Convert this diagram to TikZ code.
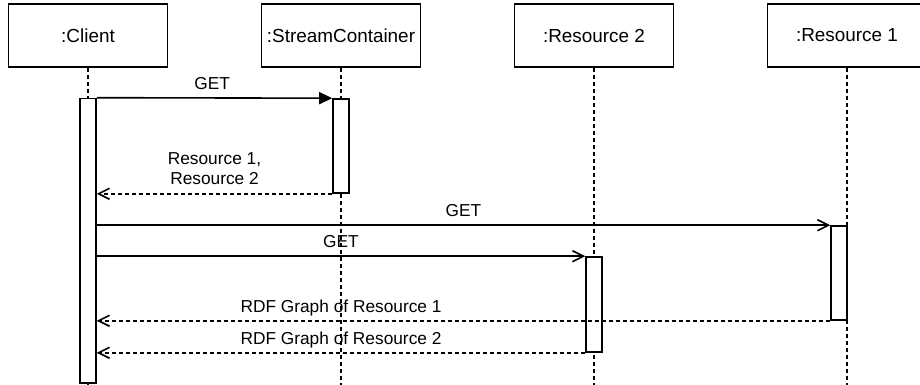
\documentclass[tikz,border=0pt]{standalone}
\usepackage{fontspec}
\setmainfont{Liberation Sans}
\usetikzlibrary{arrows.meta}
\begin{document}
\begin{tikzpicture}
[x=1pt,y=-1pt,line width=1.6pt,
  lifebox/.style={shape=rectangle,draw,minimum width=159pt,minimum height=63pt,inner sep=0pt,font=\fontsize{18.9}{22}\selectfont},%
  actbar/.style={shape=rectangle,draw,fill=white,minimum width=16pt,inner sep=0pt},%
  lifeline/.style={dash pattern=on 4pt off 3pt,line width=1.4pt},%
  syncarrow/.style={-{Triangle[length=13pt,width=12pt]}},%
  callarrow/.style={-{Straight Barb[length=11pt,width=11pt]}},%
  replyarrow/.style={dash pattern=on 4pt off 3pt,-{Straight Barb[length=11pt,width=11pt]}},%
  msglabel/.style={anchor=base,yshift=8.3pt,inner sep=0pt,font=\fontsize{17.3}{19.8}\selectfont}]
\useasboundingbox (0,0) rectangle (920,385);
\clip (0,0) rectangle (920,385);
\coordinate (bottom) at (0,385);
% lifeline heads
\node (client) at (88,35.5) [lifebox] {:Client};
\node (container) at (341,35.5) [lifebox] {:StreamContainer};
\node (res2) at (594,35.5) [lifebox] {:Resource 2};
\node (res1) at (847,35.5) [lifebox] {:Resource 1};
% lifelines
\draw[lifeline] (client.south) -- (client.south |- bottom);
\draw[lifeline] (container.south) -- (container.south |- bottom);
\draw[lifeline] (res2.south) -- (res2.south |- bottom);
\draw[lifeline] (res1.south) -- (res1.south |- bottom);
% activation bars
\node (clientbar) at (88,240.75) [actbar,minimum height=284.5pt] {};
\node (containerbar) at (341,146) [actbar,minimum height=94pt] {};
\node (res2bar) at (594,304.5) [actbar,minimum height=95pt] {};
\node (res1bar) at (839,273) [actbar,minimum height=94pt] {};
% messages
\draw[syncarrow] (clientbar.north east) -- (containerbar.north west)
  node[msglabel,pos=0.49] {GET};
\draw[replyarrow] (containerbar.south west) -- (containerbar.south west -| clientbar.east)
  node[msglabel,midway,anchor=south,align=center,yshift=0.5pt] {Resource 1,\\Resource 2};
\draw[callarrow] (clientbar.east |- res1bar.north west) -- (res1bar.north west)
  node[msglabel,midway] {GET};
\draw[callarrow] (clientbar.east |- res2bar.north west) -- (res2bar.north west)
  node[msglabel,midway] {GET};
\draw[replyarrow] (res1bar.south west) -- (res1bar.south west -| clientbar.east)
  node[msglabel,pos=0.667] {RDF Graph of Resource 1};
\draw[replyarrow] (res2bar.south west) -- (res2bar.south west -| clientbar.east)
  node[msglabel,midway] {RDF Graph of Resource 2};
\end{tikzpicture}
\end{document}
